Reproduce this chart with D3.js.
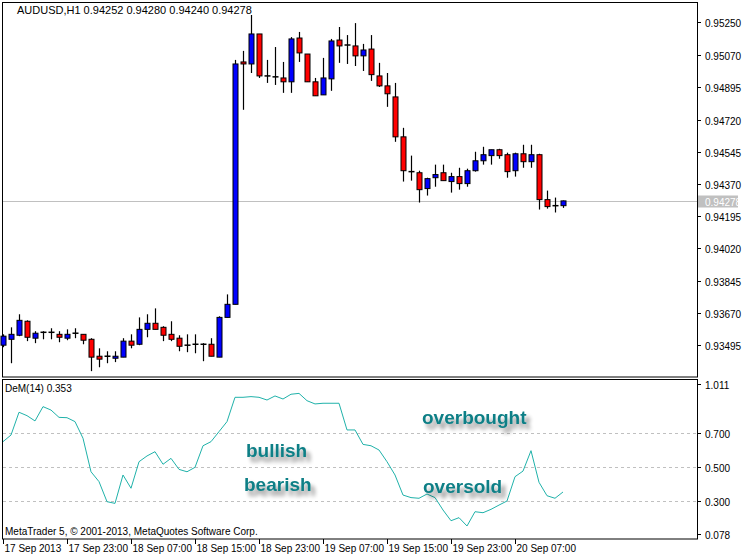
<!DOCTYPE html>
<html><head><meta charset="utf-8">
<script src="https://cdn.jsdelivr.net/npm/d3@7"></script>
<style>body{margin:0;background:#fff}text{font-family:"Liberation Sans",Arial,sans-serif}</style>
</head><body>
<script>
const width = 750, height = 560;

const opens = [.93494,.93526,.93548,.93624,.93532,.93564,.93559,.93553,.93532,.93553,.93553,.93526,.93434,.93429,.93423,.93429,.93516,.93499,.93580,.93613,
  .93591,.93553,.93532,.93488,.93494,.93499,.93499,.93429,.93645,.93716,.95033,.95022,.95185,.94957,.94952,.94946,.94925,.95163,.95076,.94925,
  .94854,.94941,.95152,.95120,.95120,.95066,.95103,.94957,.94903,.94843,.94626,.94437,.94431,.94345,.94404,.94431,.94383,.94410,.94372,.94442,
  .94496,.94524,.94556,.94529,.94442,.94534,.94491,.94529,.94285,.94247,.94252];
const highs = [.93553,.93591,.93662,.93629,.93570,.93570,.93586,.93570,.93580,.93586,.93553,.93532,.93477,.93461,.93461,.93532,.93553,.93645,.93662,.93694,
  .93597,.93624,.93548,.93553,.93553,.93505,.93532,.93651,.93770,.95044,.95093,.95288,.95185,.95044,.95114,.95033,.95168,.95196,.95076,.94946,
  .95055,.95158,.95223,.95179,.95244,.95131,.95179,.95028,.94973,.94919,.94675,.94524,.94442,.94404,.94475,.94475,.94431,.94458,.94453,.94545,
  .94572,.94556,.94561,.94540,.94540,.94583,.94583,.94534,.94334,.94296,.94280];
const lows = [.93483,.93396,.93543,.93516,.93505,.93526,.93526,.93510,.93521,.93532,.93499,.93353,.93374,.93396,.93402,.93429,.93477,.93494,.93537,.93580,
  .93516,.93516,.93461,.93456,.93450,.93407,.93434,.93429,.93645,.93716,.94773,.94973,.94946,.94919,.94908,.94865,.94865,.95033,.94925,.94849,
  .94854,.94876,.95028,.95022,.95011,.94984,.94930,.94897,.94789,.94599,.94383,.94388,.94269,.94307,.94355,.94388,.94323,.94339,.94355,.94437,
  .94475,.94475,.94507,.94404,.94410,.94458,.94458,.94231,.94236,.94215,.94240];
const closes = [.93543,.93553,.93629,.93537,.93559,.93559,.93564,.93537,.93553,.93559,.93521,.93429,.93418,.93434,.93434,.93516,.93494,.93580,.93613,.93580,
  .93548,.93526,.93488,.93494,.93499,.93499,.93434,.93645,.93716,.95022,.95022,.95185,.94957,.94952,.94946,.94925,.95158,.95082,.94925,.94849,
  .94946,.95147,.95120,.95125,.95066,.95098,.94964,.94903,.94860,.94626,.94442,.94431,.94339,.94399,.94421,.94388,.94410,.94372,.94442,.94496,
  .94529,.94556,.94524,.94437,.94534,.94491,.94529,.94285,.94247,.94252,.94278];
const dem = [.649,.688,.822,.802,.771,.855,.835,.792,.790,.767,.669,.472,.414,.296,.286,.453,.375,.531,.565,.590,
  .516,.551,.486,.472,.498,.625,.649,.708,.767,.910,.910,.914,.910,.894,.918,.900,.928,.933,.890,.871,
  .875,.875,.875,.718,.718,.633,.625,.600,.531,.453,.335,.320,.316,.341,.320,.247,.184,.202,.153,.237,
  .231,.251,.276,.300,.443,.476,.596,.410,.331,.316,.353];
const priceTicks = [0.95250,0.95070,0.94895,0.94720,0.94545,0.94370,0.94195,0.94020,0.93845,0.93670,0.93495];
const demTicks = [1.011,0.700,0.500,0.300,0.078];
const demLevels = [0.7,0.5,0.3];
const timeLabels = ["17 Sep 2013","17 Sep 23:00","18 Sep 07:00","18 Sep 15:00","18 Sep 23:00","19 Sep 07:00","19 Sep 15:00","19 Sep 23:00","20 Sep 07:00"];
const notes = [["overbought",422,424],["bullish",246,457],["bearish",244,491],["oversold",423,493]];

const svg = d3.select("body").append("svg").attr("width", width).attr("height", height);
svg.append("defs").append("filter").attr("id","sh").attr("x","-20%").attr("y","-50%").attr("width","150%").attr("height","220%")
  .html('<feGaussianBlur in="SourceAlpha" stdDeviation="2.2"/><feOffset dx="4" dy="5"/><feComponentTransfer><feFuncA type="linear" slope="0.45"/></feComponentTransfer><feMerge><feMergeNode/><feMergeNode in="SourceGraphic"/></feMerge>');

const x = d3.scaleLinear().domain([0, 70]).range([3, 563]);
const y = d3.scaleLinear().domain([0.93495, 0.95250]).range([345, 22]);
const yd = d3.scaleLinear().domain([0.3, 0.7]).range([501, 433]);

// frames
svg.append("rect").attr("x",2.5).attr("y",2.5).attr("width",695).attr("height",374.5).attr("fill","none").attr("stroke","#000");
svg.append("rect").attr("x",2.5).attr("y",379.5).attr("width",695).attr("height",159.5).attr("fill","none").attr("stroke","#000");

// price axis
const pa = svg.append("g");
priceTicks.forEach(p => {
  const yy = Math.round(y(p)) + 0.5;
  pa.append("line").attr("x1",697).attr("x2",701).attr("y1",yy).attr("y2",yy).attr("stroke","#000");
  pa.append("text").attr("x",705).attr("y",yy+4).attr("font-size",10).text(p.toFixed(5));
});
const last = closes[closes.length-1];
const ly = Math.round(y(last)) + 0.5;
svg.append("line").attr("x1",3).attr("x2",697).attr("y1",ly).attr("y2",ly).attr("stroke","#c0c0c0");
svg.append("rect").attr("x",698).attr("y",ly-6).attr("width",40).attr("height",12).attr("fill","#c0c0c0");
svg.append("text").attr("x",705).attr("y",ly+4).attr("font-size",10).attr("fill","#fff").text(last.toFixed(5));

// candles
const idx = d3.range(opens.length);
const cg = svg.append("g");
idx.forEach(i => {
  const cx = Math.round(x(i)) + 0.5;
  cg.append("line").attr("x1",cx).attr("x2",cx).attr("y1",y(highs[i])).attr("y2",y(lows[i])).attr("stroke","#000").attr("stroke-width",1.2);
  const top = y(Math.max(opens[i], closes[i])), bot = y(Math.min(opens[i], closes[i]));
  if (bot - top < 1.5) {
    cg.append("line").attr("x1",cx-3).attr("x2",cx+3).attr("y1",top).attr("y2",top).attr("stroke","#000").attr("stroke-width",1.5);
  } else {
    cg.append("rect").attr("x",cx-2.5).attr("y",top).attr("width",5).attr("height",bot-top)
      .attr("fill", closes[i] > opens[i] ? "#0000ff" : "#ff0000").attr("stroke","#000").attr("stroke-width",1);
  }
});
svg.append("text").attr("x",17).attr("y",14).attr("font-size",11).text("AUDUSD,H1  0.94252 0.94280 0.94240 0.94278");

// DeM panel
demLevels.forEach(v => {
  svg.append("line").attr("x1",3).attr("x2",697).attr("y1",Math.round(yd(v))+0.5).attr("y2",Math.round(yd(v))+0.5)
    .attr("stroke","#c0c0c0").attr("stroke-dasharray","3,3");
});
demTicks.forEach(v => {
  const yy = Math.min(Math.max(Math.round(yd(v)), 384), 534) + 0.5;
  svg.append("line").attr("x1",697).attr("x2",701).attr("y1",yy).attr("y2",yy).attr("stroke","#000");
  svg.append("text").attr("x",705).attr("y",yy+4).attr("font-size",10).text(v.toFixed(3));
});
svg.append("path").datum(dem).attr("fill","none").attr("stroke","#20b2aa").attr("stroke-width",1)
  .attr("d", d3.line().x((d,i) => x(i)).y(d => yd(d)));
svg.append("text").attr("x",5).attr("y",392).attr("font-size",10).text("DeM(14) 0.353");
svg.append("text").attr("x",5).attr("y",535).attr("font-size",10).text("MetaTrader 5, © 2001-2013, MetaQuotes Software Corp.");

notes.forEach(n => {
  svg.append("text").attr("x",n[1]).attr("y",n[2]).attr("font-family","Arial, 'Liberation Sans', sans-serif")
    .attr("font-weight","bold").attr("font-size",19).attr("fill","#0e7f86").attr("filter","url(#sh)").text(n[0]);
});

// time axis
timeLabels.forEach((t, k) => {
  const tx = Math.round(x(k * 8)) + 0.5;
  svg.append("line").attr("x1",tx).attr("x2",tx).attr("y1",539).attr("y2",544).attr("stroke","#000");
  svg.append("text").attr("x",tx+1).attr("y",552).attr("font-size",10).text(t);
});
</script>
</body></html>
